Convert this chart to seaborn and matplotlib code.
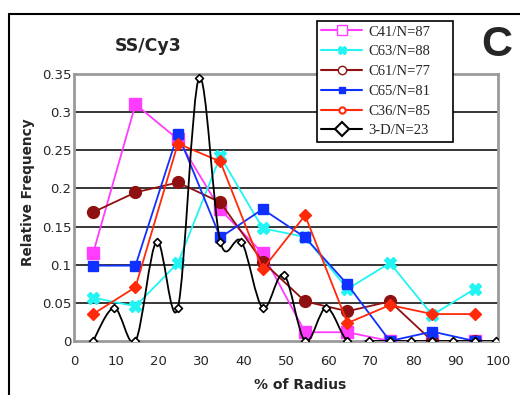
import numpy as np
import pandas as pd
import matplotlib
matplotlib.use("Agg")
import matplotlib.pyplot as plt
from matplotlib.path import Path
from matplotlib.patches import PathPatch
from matplotlib.lines import Line2D
import seaborn as sns

# ---------------- data ----------------
bins = [4.5, 14.5, 24.5, 34.5, 44.5, 54.5, 64.5, 74.5, 84.5, 94.5]
c41 = [0.1149, 0.3103, 0.2644, 0.1724, 0.1149, 0.0115, 0.0115, 0.0, 0.0, 0.0]
c63 = [0.0568, 0.0455, 0.1023, 0.2420, 0.1477, 0.1364, 0.0682, 0.1023, 0.0341, 0.0682]
c61 = [0.1688, 0.1948, 0.2078, 0.1818, 0.1039, 0.0519, 0.0390, 0.0519, 0.0, 0.0]
c65 = [0.0988, 0.0988, 0.2716, 0.1358, 0.1728, 0.1358, 0.0741, 0.0, 0.0123, 0.0]
c36 = [0.0353, 0.0706, 0.2588, 0.2353, 0.0941, 0.1647, 0.0235, 0.0471, 0.0353, 0.0353]
bins3d = [4.5, 9.5, 14.5, 19.5, 24.5, 29.5, 34.5, 39.5, 44.5, 49.5,
          54.5, 59.5, 64.5, 69.5, 74.5, 79.5, 84.5, 89.5, 94.5, 99.5]
d3 = [0.0, 0.0435, 0.0, 0.1304, 0.0435, 0.3450, 0.1304, 0.1304, 0.0435, 0.0870,
      0.0, 0.0435, 0.0, 0.0, 0.0, 0.0, 0.0, 0.0, 0.0, 0.0]
labels = ["C41/N=87", "C63/N=88", "C61/N=77", "C65/N=81", "C36/N=85", "3-D/N=23"]
xticks = [0, 10, 20, 30, 40, 50, 60, 70, 80, 90, 100]
yticks = [0, 0.05, 0.1, 0.15, 0.2, 0.25, 0.3, 0.35]
ytick_labels = ["0", "0.05", "0.1", "0.15", "0.2", "0.25", "0.3", "0.35"]

# ---------------- style ----------------
sns.set_style("white")
plt.rcParams["font.family"] = ["DejaVu Sans"]

W, H = 520, 395
fig = plt.figure(figsize=(W / 100, H / 100), dpi=100)
ax = fig.add_axes([74 / W, 1 - 341 / H, (498 - 74) / W, (341 - 74) / H])

MAG = "#ff3cff"
CYA = "#22f4f4"
BRN = "#8e1010"
BLU = "#1030ff"
RED = "#ff2a0a"

series = [
    (c41, MAG, "s", 9, MAG),
    (c63, CYA, "X", 8, CYA),
    (c61, BRN, "o", 8.5, BRN),
    (c65, BLU, "s", 6.5, BLU),
    (c36, RED, "D", 6.5, RED),
]
for vals, col, mk, ms, fc in series:
    sns.lineplot(x=bins, y=vals, ax=ax, color=col, marker=mk, markersize=ms,
                 markerfacecolor=fc, markeredgecolor=col, markeredgewidth=1,
                 linewidth=1.3, zorder=3)

# smoothed black 3-D curve (Bezier through the data points)
pts = np.column_stack([bins3d, d3])
verts = [tuple(pts[0])]
codes = [Path.MOVETO]
n = len(pts)
for i in range(n - 1):
    p0 = pts[i - 1] if i > 0 else pts[i]
    p1 = pts[i]
    p2 = pts[i + 1]
    p3 = pts[i + 2] if i + 2 < n else pts[i + 1]
    c1 = p1 + (p2 - p0) / 6.0
    c2 = p2 - (p3 - p1) / 6.0
    verts += [tuple(c1), tuple(c2), tuple(p2)]
    codes += [Path.CURVE4] * 3
ax.add_patch(PathPatch(Path(verts, codes), facecolor="none", edgecolor="black",
                       linewidth=1.3, zorder=4, transform=ax.transData))
sns.scatterplot(x=bins3d, y=d3, ax=ax, marker="D", s=16, facecolor="white",
                edgecolor="black", linewidth=1.2, zorder=5, legend=False)

# ---------------- axes ----------------
ax.set_xlim(0, 100)
ax.set_ylim(0, 0.35)
ax.set_xticks(xticks)
ax.set_xticklabels([str(t) for t in xticks])
ax.set_yticks(yticks)
ax.set_yticklabels(ytick_labels)
for yv in yticks[1:-1]:
    ax.axhline(yv, color="black", linewidth=1.1, zorder=1)
for s in ax.spines.values():
    s.set_color("#9a9a9a")
    s.set_linewidth(2)
ax.tick_params(axis="x", direction="out", length=4, width=1, color="black",
               labelsize=9.5, pad=6)
ax.tick_params(axis="y", direction="in", length=4, width=1, color="black",
               labelsize=9.5, pad=2)
ax.set_xlabel("")
ax.set_ylabel("")

fig.text(148 / W, 1 - 46 / H, "SS/Cy3", fontsize=12.5, fontweight="bold",
         ha="center", va="center")
fig.text(497 / W, 1 - 45 / H, "C", fontsize=31, fontweight="bold",
         family=["Liberation Sans"], ha="center", va="center")
fig.text(28 / W, 1 - 192 / H, "Relative Frequency", fontsize=9.8, fontweight="bold",
         rotation=90, ha="center", va="center")
fig.text(300 / W, 1 - 385 / H, "% of Radius", fontsize=10, fontweight="bold",
         ha="center", va="center")

# figure border lines
fig.add_artist(Line2D([9 / W, 1], [1 - 14 / H, 1 - 14 / H], color="black",
                      linewidth=1.5, transform=fig.transFigure))
fig.add_artist(Line2D([9 / W, 9 / W], [0, 1 - 14 / H], color="black",
                      linewidth=1.5, transform=fig.transFigure))

# legend
handles = [
    Line2D([], [], color=MAG, marker="s", markersize=7, markerfacecolor="white", markeredgecolor=MAG, linewidth=1.5),
    Line2D([], [], color=CYA, marker="X", markersize=6, markerfacecolor=CYA, markeredgecolor=CYA, linewidth=1.5),
    Line2D([], [], color=BRN, marker="o", markersize=6, markerfacecolor="white", markeredgecolor=BRN, linewidth=1.5),
    Line2D([], [], color=BLU, marker="s", markersize=5, markerfacecolor=BLU, markeredgecolor=BLU, linewidth=1.5),
    Line2D([], [], color=RED, marker="o", markersize=4.5, markerfacecolor="white", markeredgecolor=RED, markeredgewidth=1.5, linewidth=1.5),
    Line2D([], [], color="black", marker="D", markersize=7, markerfacecolor="white", markeredgecolor="black", markeredgewidth=1.5, linewidth=1.5),
]
leg = fig.legend(handles, labels, loc="upper left",
                 bbox_to_anchor=(317 / W, 1 - 21 / H - 0.01, 136 / W, 0.01), mode="expand",
                 borderaxespad=0,
                 prop={"family": "Liberation Serif", "size": 10.5},
                 frameon=True, fancybox=False, framealpha=1, edgecolor="black",
                 handlelength=2.8, handletextpad=0.4, labelspacing=0.45,
                 borderpad=0.3)
leg.get_frame().set_linewidth(1.2)
leg.set_zorder(10)

fig.savefig("out.png", dpi=100)
